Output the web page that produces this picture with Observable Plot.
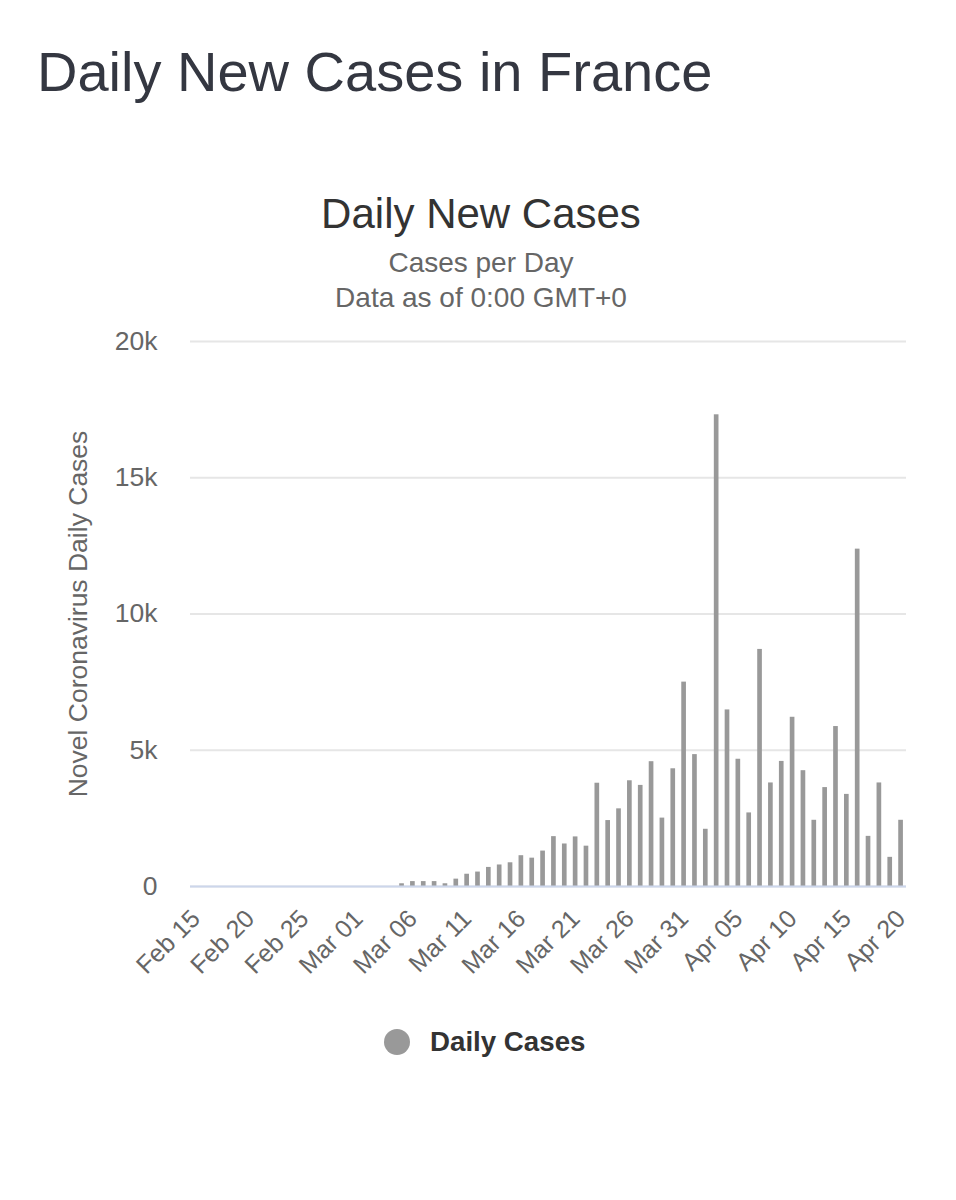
<!DOCTYPE html>
<html>
<head>
<meta charset="utf-8">
<script src="https://cdn.jsdelivr.net/npm/d3@7"></script>
<script src="https://cdn.jsdelivr.net/npm/@observablehq/plot@0.6"></script>
<style>
  html, body { margin: 0; padding: 0; background: #ffffff; }
  body { width: 956px; height: 1200px; position: relative; overflow: hidden; font-family: "Liberation Sans", Arial, Helvetica, sans-serif; }
  .abs { position: absolute; line-height: 1; white-space: nowrap; }
  #title { left: 37px; top: 44px; font-size: 56px; color: #343741; }
  .center { left: 0; width: 962px; text-align: center; }
  #ctitle { top: 193px; font-size: 42px; color: #333333; }
  #sub1 { top: 249px; font-size: 28px; color: #666666; }
  #sub2 { top: 284px; font-size: 28px; color: #666666; }
  #chart { position: absolute; left: 0; top: 320px; }
  #legend { top: 1028px; left: 384px; display: flex; align-items: center; font-size: 27.7px; font-weight: bold; color: #333333; }
  #legend .dot { width: 26px; height: 26px; border-radius: 50%; background: #999999; margin-right: 20px; }
</style>
</head>
<body>
<div id="title" class="abs">Daily New Cases in France</div>
<div id="ctitle" class="abs center">Daily New Cases</div>
<div id="sub1" class="abs center">Cases per Day</div>
<div id="sub2" class="abs center">Data as of 0:00 GMT+0</div>
<div id="chart"></div>
<div id="legend" class="abs"><span class="dot"></span><span>Daily Cases</span></div>
<script>
// Categories: one per day, Feb 15 to Apr 20 2020
const firstDay = "2020-02-15";
const lastDay = "2020-04-20";
// Daily new cases (Feb 15 ... Apr 20)
const dailyCases = [
  0, 0, 0, 0, 0, 0, 0, 0, 0, 0,          // Feb 15 - Feb 24
  0, 0, 0, 0, 0, 0, 0, 0, 0,             // Feb 25 - Mar 04
  100, 180, 180, 180, 100, 270, 450, 530, 700, 790,   // Mar 05 - Mar 14
  870, 1130, 1040, 1300, 1830, 1560, 1820, 1480, 3790, 2420, // Mar 15 - Mar 24
  2850, 3880, 3710, 4580, 2510, 4320, 7500, 4840, 2100, 17310, // Mar 25 - Apr 03
  6480, 4670, 2700, 8700, 3800, 4590, 6210, 4250, 2430, 3630,  // Apr 04 - Apr 13
  5870, 3380, 12380, 1840, 3800, 1070, 2430                    // Apr 14 - Apr 20
];
const xTickLabels = ["2020-02-15","2020-02-20","2020-02-25","2020-03-01","2020-03-06","2020-03-11","2020-03-16",
  "2020-03-21","2020-03-26","2020-03-31","2020-04-05","2020-04-10","2020-04-15","2020-04-20"];
const yTicks = [0, 5000, 10000, 15000, 20000];

const days = d3.utcDay.range(new Date(firstDay), d3.utcDay.offset(new Date(lastDay), 1));
const data = days.map((d, i) => ({date: d, cases: dailyCases[i]}));
const xTicks = xTickLabels.map(s => new Date(s));

const chart = Plot.plot({
  width: 956,
  height: 680,
  marginTop: 21,
  marginBottom: 114,
  marginLeft: 190,
  marginRight: 50,
  style: {fontFamily: "'Liberation Sans', Arial, Helvetica, sans-serif", fontSize: "26px", color: "#666666", background: "transparent", overflow: "visible"},
  x: {type: "band", domain: days, paddingInner: 0.57, paddingOuter: 0.285},
  y: {domain: [0, 20000]},
  marks: [
    Plot.gridY(yTicks, {stroke: "#e6e6e6", strokeOpacity: 1, strokeWidth: 2}),
    Plot.axisY(yTicks, {
      tickSize: 0, tickPadding: 33,
      tickFormat: d => d === 0 ? "0" : (d / 1000) + "k",
      label: "Novel Coronavirus Daily Cases", labelAnchor: "center", labelArrow: "none", labelOffset: 122,
      fontSize: 26.5, fill: "#666666"
    }),
    Plot.axisX(xTicks, {
      tickSize: 0, tickRotate: -45, tickPadding: 28,
      tickFormat: d3.utcFormat("%b %d"), label: null,
      fontSize: 25, fill: "#666666"
    }),
    Plot.barY(data, {x: "date", y: "cases", fill: "#999999"}),
    Plot.ruleY([0], {stroke: "#ccd6eb", strokeWidth: 2})
  ]
});
document.getElementById("chart").appendChild(chart);
</script>
</body>
</html>
